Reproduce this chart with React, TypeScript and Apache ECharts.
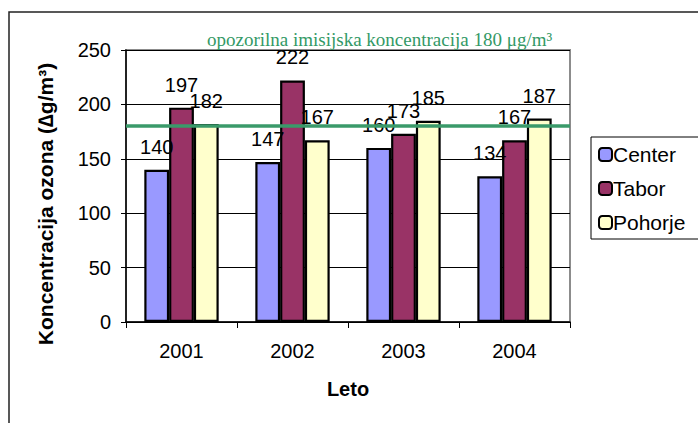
import React, { useEffect, useRef } from "react";
import * as echarts from "echarts";

const years = ["2001", "2002", "2003", "2004"];
const center = [140, 147, 160, 134];
const tabor = [197, 222, 173, 167];
const pohorje = [182, 167, 185, 187];
const thresholdValue = 180;
const thresholdLabel = "opozorilna imisijska koncentracija 180 μg/m³";
const yTitle = "Koncentracija ozona (∆g/m³)";
const xTitle = "Leto";

const SANS = "'Liberation Sans', Arial, sans-serif";
const SERIF = "'Liberation Serif', 'Times New Roman', serif";

export default function App() {
  const ref = useRef<HTMLDivElement>(null);
  useEffect(() => {
    if (!ref.current) return;
    const chart = echarts.init(ref.current, null, { renderer: "svg" });
    const label = {
      show: true,
      position: "top",
      distance: 13,
      color: "#000",
      fontSize: 20,
      fontFamily: SANS,
    };
    const barStyle = (c: string) => ({ color: c, borderColor: "#000", borderWidth: 2.2 });
    chart.setOption({
      animation: false,
      backgroundColor: "#fff",
      title: {
        text: thresholdLabel,
        left: 207,
        top: 30,
        padding: 0,
        textStyle: { fontFamily: SERIF, fontSize: 19, fontWeight: "normal", color: "#339966" },
      },
      grid: {
        left: 126,
        right: 128,
        top: 50,
        bottom: 101,
        show: true,
        borderColor: "#8c8c8c",
        borderWidth: 2,
        backgroundColor: "transparent",
      },
      legend: {
        orient: "vertical",
        left: 591,
        top: 137,
        padding: [7, 60, 6, 7],
        itemWidth: 13,
        itemHeight: 13,
        itemGap: 13,
        borderColor: "#000",
        borderWidth: 1,
        textStyle: { fontFamily: SANS, fontSize: 21, color: "#000", padding: [0, 0, 0, -4] },
        data: ["Center", "Tabor", "Pohorje"],
      },
      xAxis: {
        type: "category",
        data: years,
        name: xTitle,
        nameLocation: "middle",
        nameGap: 57,
        nameTextStyle: { fontFamily: SANS, fontSize: 20, fontWeight: "bold", color: "#000" },
        axisLine: { lineStyle: { color: "#000", width: 1.5 } },
        axisTick: { show: true, alignWithLabel: false, length: 6, lineStyle: { color: "#000" } },
        axisLabel: { fontFamily: SANS, fontSize: 20, color: "#000", margin: 19 },
      },
      yAxis: {
        type: "value",
        min: 0,
        max: 250,
        interval: 50,
        axisLine: { show: true, lineStyle: { color: "#000", width: 1.5 } },
        axisTick: { show: true, length: 5, lineStyle: { color: "#000" } },
        axisLabel: { fontFamily: SANS, fontSize: 20, color: "#000", margin: 15 },
        splitLine: { show: true, lineStyle: { color: "#000", width: 1 } },
      },
      graphic: [
        {
          type: "rect",
          shape: { x: 9, y: 12, width: 900, height: 600 },
          style: { fill: "none", stroke: "#222", lineWidth: 1.5 },
          z: 100,
        },
        {
          type: "text",
          x: 45,
          y: 204,
          rotation: Math.PI / 2,
          style: {
            text: yTitle,
            fontFamily: SANS,
            fontSize: 21,
            fontWeight: "bold",
            fill: "#000",
            align: "center",
            verticalAlign: "middle",
          },
        },
      ],
      series: [
        {
          name: "Center",
          type: "bar",
          data: center,
          barGap: "0%",
          barCategoryGap: "33%",
          itemStyle: barStyle("#9999ff"),
          label,
          markLine: {
            silent: true,
            symbol: "none",
            z: 10,
            lineStyle: { color: "#3a9a6a", width: 3.5, type: "solid" },
            label: { show: false },
            data: [{ yAxis: thresholdValue }],
          },
        },
        {
          name: "Tabor",
          type: "bar",
          data: tabor,
          barGap: "0%",
          barCategoryGap: "33%",
          itemStyle: barStyle("#993366"),
          label,
        },
        {
          name: "Pohorje",
          type: "bar",
          data: pohorje,
          barGap: "0%",
          barCategoryGap: "33%",
          itemStyle: barStyle("#ffffcc"),
          label,
        },
      ],
    });
    return () => chart.dispose();
  }, []);
  return (
    <div
      ref={ref}
      style={{ position: "fixed", left: 0, top: 0, width: 698, height: 423 }}
    />
  );
}
